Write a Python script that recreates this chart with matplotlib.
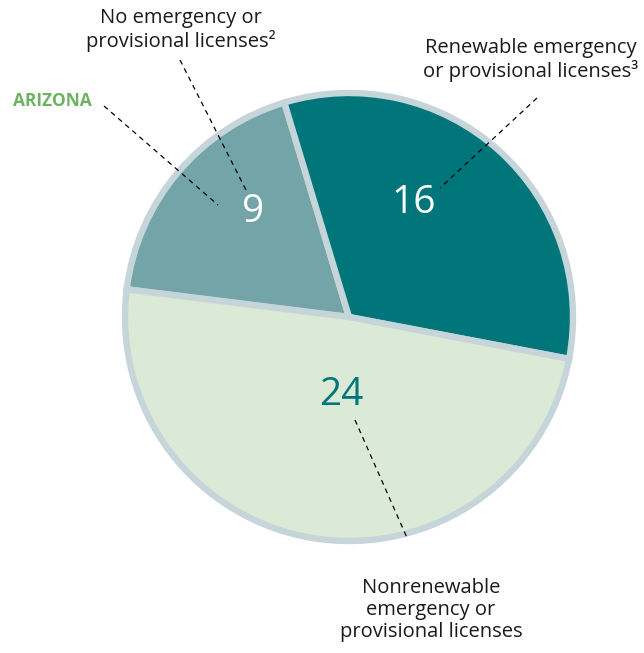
import matplotlib
matplotlib.use('Agg')
import matplotlib.pyplot as plt

matplotlib.rcParams['font.family'] = ['Open Sans', 'DejaVu Sans']

# data
categories = ['No emergency or\nprovisional licenses²',
              'Renewable emergency\nor provisional licenses³',
              'Nonrenewable\nemergency or\nprovisional licenses']
values = [9, 16, 24]
colors = ['#73a4a8', '#00757a', '#dbead6']
num_colors = ['white', 'white', '#00757a']
state = 'ARIZONA'

W, H = 644, 653
fig = plt.figure(figsize=(W / 100, H / 100), dpi=100)
ax = fig.add_axes([0, 0, 1, 1])

cx, cy = 349, H - 317
ax.pie(values, colors=colors, startangle=172.9, counterclock=False,
       center=(cx, cy), radius=224, frame=True,
       wedgeprops=dict(edgecolor='#c5d5d9', linewidth=4.6))
ax.set_xlim(0, W)
ax.set_ylim(0, H)
ax.set_aspect('equal')
ax.axis('off')

# number labels (pixel positions measured from top)
num_pos = [(253, 212), (414, 203), (341, 395)]
for v, (x, y), c in zip(values, num_pos, num_colors):
    ax.text(x, H - y, str(v), fontsize=28, color=c, ha='center', va='center')

# category labels
label_pos = [(181, 30), (531, 60), (431, 610)]
for lab, (x, y) in zip(categories, label_pos):
    ax.text(x, H - y, lab, fontsize=14.5, color='#1a1a1a', ha='center', va='center',
            linespacing=1.15)

ax.text(52, H - 101, state, fontsize=12.5, color='#6db35f', fontweight='bold',
        ha='center', va='center')

# dashed leader lines
leaders = [((180, 60), (246, 190)),
           ((104, 106), (218, 205)),
           ((537, 98), (440, 188)),
           ((355, 420), (408, 540))]
for (x0, y0), (x1, y1) in leaders:
    ax.plot([x0, x1], [H - y0, H - y1], color='black', linewidth=0.9,
            linestyle=(0, (4, 3.5)))

fig.savefig('out.png', dpi=100)
